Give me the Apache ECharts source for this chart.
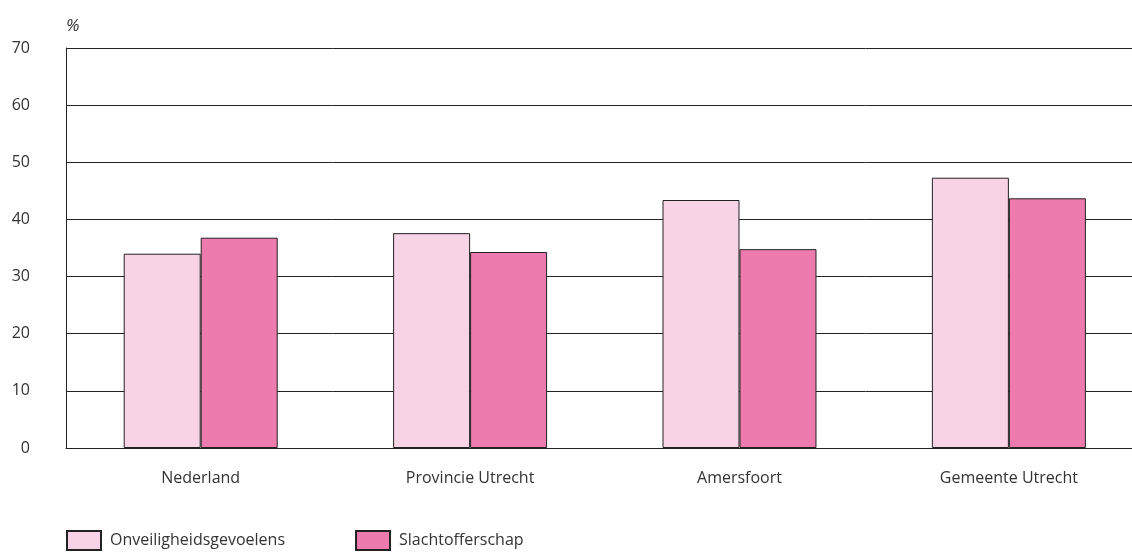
<!DOCTYPE html>
<html>
<head>
    <meta charset="utf-8">
    <title>Onveiligheid en slachtofferschap</title>
    <script src="https://cdn.jsdelivr.net/npm/echarts@6/dist/echarts.min.js"></script>
    <style>
        html, body { margin: 0; padding: 0; background: #fff; }
    </style>
</head>
<body>
<div id="main" style="width: 1132px;height:556px;"></div>

<script type="text/javascript">
    // gegevens
    var regios = ['Nederland', 'Provincie Utrecht', 'Amersfoort', 'Gemeente Utrecht'];
    var onveiligheid = [34.0, 37.6, 43.4, 47.3];
    var slachtoffer = [36.8, 34.3, 34.8, 43.7];
    var yTicks = [0, 10, 20, 30, 40, 50, 60, 70];

    var lettertype = 'Open Sans';

    // de x-as loopt door tot de rand van het beeld; daarom een waarde-as met index per regio
    var posities = regios.map(function (r, i) { return i; });
    function paren(waarden) {
        return waarden.map(function (v, i) { return [posities[i], v]; });
    }

    var myChart = echarts.init(document.getElementById('main'));

    var option = {
        animation: false,
        textStyle: { fontFamily: lettertype },
        grid: {
            left: 66,
            top: 48,
            right: 0,
            height: 400,
            containLabel: false
        },
        legend: {
            left: 66,
            top: 530,
            padding: 0,
            icon: 'rect',
            itemWidth: 34,
            itemHeight: 19,
            itemGap: 70,
            textStyle: { fontSize: 16, color: '#333', fontFamily: lettertype, padding: [6, 0, 0, 4] },
            data: ['Onveiligheidsgevoelens', 'Slachtofferschap']
        },
        xAxis: {
            type: 'value',
            min: -0.5,
            max: 3.457,
            axisLine: { show: true, onZero: false, lineStyle: { color: '#222', width: 1 } },
            axisTick: { show: false },
            splitLine: { show: false },
            axisLabel: {
                margin: 22,
                fontSize: 16,
                color: '#333',
                customValues: posities,
                hideOverlap: false,
                formatter: function (v) { return regios[Math.round(v)] || ''; }
            }
        },
        yAxis: {
            type: 'value',
            min: yTicks[0],
            max: yTicks[yTicks.length - 1],
            interval: 10,
            name: '%',
            nameLocation: 'end',
            nameGap: 13,
            nameTextStyle: { fontSize: 17, fontStyle: 'italic', color: '#333', align: 'left' },
            axisLine: { show: true, onZero: false, lineStyle: { color: '#222', width: 1 } },
            axisTick: { show: false },
            axisLabel: { margin: 36, fontSize: 16, color: '#333', align: 'right' },
            splitLine: { show: true, lineStyle: { color: '#222', width: 1 } }
        },
        series: [{
            name: 'Onveiligheidsgevoelens',
            type: 'bar',
            barWidth: 77,
            barGap: '0%',
            data: paren(onveiligheid),
            itemStyle: { color: '#f8d3e6', borderColor: '#222', borderWidth: 1 }
        }, {
            name: 'Slachtofferschap',
            type: 'bar',
            barWidth: 77,
            barGap: '0%',
            data: paren(slachtoffer),
            itemStyle: { color: '#ee7bae', borderColor: '#222', borderWidth: 1 }
        }]
    };

    myChart.setOption(option);
</script>
</body>
</html>
